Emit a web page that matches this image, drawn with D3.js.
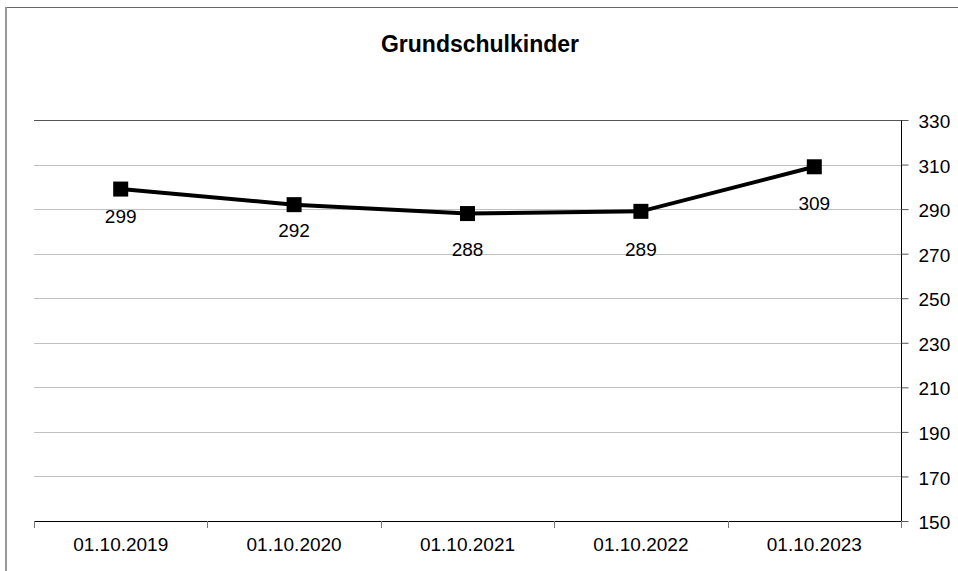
<!DOCTYPE html>
<html><head><meta charset="utf-8">
<script src="https://cdn.jsdelivr.net/npm/d3@7"></script>
<style>body{margin:0;background:#fff}svg{display:block;font-family:"Liberation Sans",Arial,sans-serif}</style>
</head><body><svg id="c" width="958" height="571"></svg>
<script>
const title = "Grundschulkinder";
const categories = ["01.10.2019","01.10.2020","01.10.2021","01.10.2022","01.10.2023"];
const values = [299, 292, 288, 289, 309];
const yTicks = [150,170,190,210,230,250,270,290,310,330];
// vertical offset (px) of each data label below its marker
const labelOffsets = [34, 32, 42, 45, 43];

const svg = d3.select("#c");
const FONT = "Liberation Sans, Arial, sans-serif";
const L = 34, R = 901, T = 120, B = 521;
const x = d3.scaleBand().domain(categories).range([L, R]);
const y = d3.scaleLinear().domain([150, 330]).range([B, T]);

// outer border
svg.append("line").attr("x1",5).attr("x2",958).attr("y1",7.5).attr("y2",7.5).attr("stroke","#666").attr("stroke-width",1);
svg.append("line").attr("x1",6).attr("x2",6).attr("y1",7).attr("y2",571).attr("stroke","#999").attr("stroke-width",2);

// title
svg.append("text").attr("x",480).attr("y",52).attr("text-anchor","middle")
  .attr("font-weight","bold").attr("font-size",23).text(title);

// gridlines
svg.append("g").selectAll("line").data(yTicks.filter(t=>t>150)).join("line")
  .attr("x1",L).attr("x2",R).attr("y1",d=>Math.round(y(d))+0.5).attr("y2",d=>Math.round(y(d))+0.5)
  .attr("stroke",d=>d===330?"#555":"#c0c0c0").attr("stroke-width",1);

// right axis
const ya = svg.append("g").attr("transform",`translate(${R+0.5},0)`)
  .call(d3.axisRight(y).tickValues(yTicks).tickSize(7).tickPadding(10));
ya.select(".domain").attr("stroke","#000").attr("d",`M0,${T}V${B+0.5}`);
ya.selectAll(".tick line").attr("stroke","#555");
ya.selectAll("text").attr("font-size",19).attr("fill","#000").attr("font-family",FONT).attr("dy","0.4em");

// bottom axis
const xa = svg.append("g").attr("transform",`translate(0,${B+0.5})`)
  .call(d3.axisBottom(x).tickSize(0).tickPadding(16));
xa.select(".domain").attr("stroke","#000").attr("d",`M${L},0H${R}`);
xa.selectAll("text").attr("font-size",19).attr("fill","#000").attr("font-family",FONT);
const bounds = categories.map(c=>x(c)).concat([R]);
svg.append("g").selectAll("line").data(bounds).join("line")
  .attr("x1",d=>Math.round(d)+0.5).attr("x2",d=>Math.round(d)+0.5).attr("y1",B).attr("y2",B+7)
  .attr("stroke","#777");

// line
const cx = d => x(d) + x.bandwidth()/2;
svg.append("path").datum(values).attr("fill","none").attr("stroke","#000").attr("stroke-width",4)
  .attr("d", d3.line().x((d,i)=>cx(categories[i])).y(d=>y(d)));
svg.append("g").selectAll("rect").data(values).join("rect")
  .attr("x",(d,i)=>cx(categories[i])-7.5).attr("y",d=>y(d)-7.5).attr("width",15).attr("height",15).attr("fill","#000");
svg.append("g").selectAll("text").data(values).join("text")
  .attr("x",(d,i)=>cx(categories[i])).attr("y",(d,i)=>y(d)+labelOffsets[i]).attr("text-anchor","middle")
  .attr("font-size",19).text(d=>d);
</script></body></html>
